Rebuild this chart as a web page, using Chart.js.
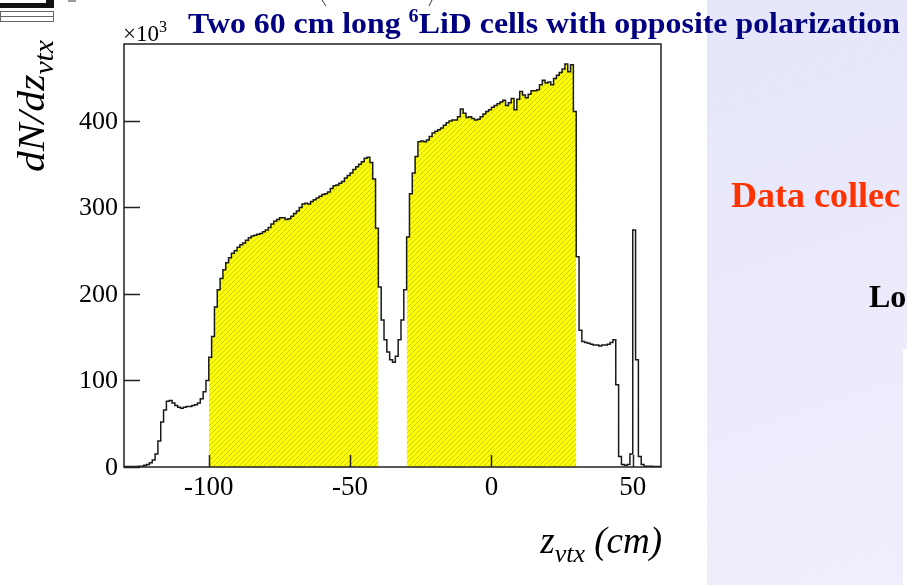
<!DOCTYPE html>
<html>
<head>
<meta charset="utf-8">
<script src="https://cdn.jsdelivr.net/npm/chart.js@4/dist/chart.umd.min.js"></script>
<style>
  html, body { margin: 0; padding: 0; background: #fff; }
  #chart-zvtx { display: block; }
</style>
</head>
<body>
<canvas id="chart-zvtx" width="907" height="585"></canvas>
<script>
// ----- DATA ----- //
// ---------------- //

// 1 cm bins, dN/dz in units of 10^3
const bin_width = 1;
const z_min = -130;
const z_max = 60;
const y_max = 489;

// Target cells (cm)
const cell_1 = [-100, -40];
const cell_2 = [-30, 30];

// z = -130 .. -101
const counts_before = [
  0.5, 0.5, 0.5, 0.5, 0.5, 1, 1, 2, 3, 5,
  8, 15, 30, 52, 66, 76, 77, 74, 71, 69,
  68, 69, 70, 70, 71, 72, 74, 79, 87, 100
];
// z = -100 .. -41 (upstream cell)
const counts_cell_1 = [
  127, 151, 185, 205, 218, 228, 236, 242, 247, 250,
  254, 257, 259, 262, 265, 267, 268, 269, 270, 272,
  274, 277, 281, 284, 286, 288, 288, 286, 287, 290,
  293, 296, 300, 304, 305, 304, 307, 309, 311, 313,
  315, 316, 318, 322, 325, 326, 328, 330, 334, 337,
  340, 344, 347, 350, 353, 357, 358, 352, 333, 276
];
// z = -40 .. -31
const counts_between = [208, 170, 147, 133, 124, 121, 128, 147, 170, 205];
// z = -30 .. 29 (downstream cell)
const counts_cell_2 = [
  266, 316, 340, 359, 376, 377, 376, 378, 382, 386,
  388, 390, 392, 395, 398, 400, 401, 401, 405, 414,
  409, 404, 405, 403, 401, 402, 405, 408, 411, 413,
  416, 418, 420, 422, 424, 418, 421, 426, 413, 425,
  434, 430, 427, 431, 435, 435, 436, 442, 447, 444,
  445, 442, 449, 453, 456, 460, 466, 457, 465, 411
];
// z = 30 .. 59
const counts_after = [
  243, 158, 145, 144, 143, 142, 141, 141, 140, 141,
  141, 142, 144, 147, 95, 12, 3, 2, 3, 15,
  274, 124, 12, 3, 1, 1, 1, 0.5, 0.5, 0.5
];

const x_ticks = [-100, -50, 0, 50];
const y_ticks = [0, 100, 200, 300, 400];

const title_text = ['Two 60 cm long ', '6', 'LiD cells with opposite polarization'];





// ----- HELPERS ----- //
// ------------------- //

// Histogram outline points (each bin = flat segment)
function histPoints(z_from, values) {
  const pts = [];
  values.forEach((v, i) => {
    pts.push({x: z_from + i * bin_width, y: v});
    pts.push({x: z_from + (i + 1) * bin_width, y: v});
  });
  return pts;
}

// Yellow with thin diagonal hatch
function makeHatch(ctx) {
  const s = 5;
  const tile = document.createElement('canvas');
  tile.width = s;
  tile.height = s;
  const t = tile.getContext('2d');
  t.fillStyle = '#ffff00';
  t.fillRect(0, 0, s, s);
  t.strokeStyle = 'rgba(150,150,60,0.5)';
  t.lineWidth = 1;
  t.beginPath();
  t.moveTo(-1, s + 1); t.lineTo(s + 1, -1);
  t.moveTo(-1, 1); t.lineTo(1, -1);
  t.moveTo(s - 1, s + 1); t.lineTo(s + 1, s - 1);
  t.stroke();
  return ctx.createPattern(tile, 'repeat');
}

// Text with a subscript / superscript part, returns end x
function drawParts(ctx, parts, x, y) {
  for (const p of parts) {
    ctx.font = p.font;
    ctx.fillText(p.text, x, y + (p.dy || 0));
    x += ctx.measureText(p.text).width;
  }
  return x;
}

function partsWidth(ctx, parts) {
  let w = 0;
  for (const p of parts) {
    ctx.font = p.font;
    w += ctx.measureText(p.text).width;
  }
  return w;
}





// ----- PAGE DECORATION ----- //
// --------------------------- //

const page_plugin = {
  id: 'page',
  beforeDraw(chart) {
    const ctx = chart.ctx;
    ctx.save();
    ctx.fillStyle = '#ffffff';
    ctx.fillRect(0, 0, chart.width, chart.height);
    // slide panel on the right
    const grad = ctx.createLinearGradient(707, 0, 907, 585);
    grad.addColorStop(0, '#e6e6fa');
    grad.addColorStop(1, '#eeeefc');
    ctx.fillStyle = grad;
    ctx.fillRect(707, 0, chart.width - 707, chart.height);
    ctx.fillStyle = '#ffffff';
    ctx.fillRect(903, 349, 4, 236);
    // clipped logo in the corner
    ctx.fillStyle = '#111';
    ctx.fillRect(0, 0, 54, 8);
    ctx.fillStyle = '#fff';
    ctx.fillRect(0, 0, 46, 3);
    ctx.strokeStyle = '#666';
    ctx.lineWidth = 1;
    ctx.strokeRect(0.5, 11.5, 53, 5);
    ctx.strokeRect(0.5, 16.5, 53, 5);
    ctx.fillStyle = '#999';
    ctx.fillRect(68, 0, 8, 2);
    // bottoms of clipped brackets
    ctx.strokeStyle = '#333';
    ctx.beginPath();
    ctx.moveTo(322, 0); ctx.lineTo(326, 6);
    ctx.moveTo(432, 0); ctx.lineTo(429, 6);
    ctx.stroke();
    ctx.restore();
  },
  afterDatasetsDraw(chart) {
    const ctx = chart.ctx;
    const a = chart.chartArea;
    const xs = chart.scales.x;
    const ys = chart.scales.y;
    ctx.save();
    ctx.strokeStyle = '#222';
    ctx.lineWidth = 1.5;
    ctx.strokeRect(a.left, a.top, a.right - a.left, a.bottom - a.top);
    ctx.beginPath();
    for (const v of y_ticks) {
      const py = Math.round(ys.getPixelForValue(v)) + 0.5;
      ctx.moveTo(a.left, py);
      ctx.lineTo(a.left + 16, py);
    }
    for (const v of x_ticks) {
      const px = Math.round(xs.getPixelForValue(v)) + 0.5;
      ctx.moveTo(px, a.bottom);
      ctx.lineTo(px, a.bottom - 12);
    }
    ctx.stroke();

    // tick labels
    ctx.fillStyle = '#000';
    ctx.font = '26px "Liberation Serif"';
    ctx.textAlign = 'right';
    ctx.textBaseline = 'middle';
    for (const v of y_ticks) {
      ctx.fillText(String(v), a.left - 6, ys.getPixelForValue(v) + 1);
    }
    ctx.font = '27px "Liberation Serif"';
    ctx.textAlign = 'center';
    ctx.textBaseline = 'alphabetic';
    for (const v of x_ticks) {
      ctx.fillText(String(v), xs.getPixelForValue(v), 495);
    }
    ctx.restore();
  },
  afterDraw(chart) {
    const ctx = chart.ctx;
    const a = chart.chartArea;
    ctx.save();
    ctx.textBaseline = 'alphabetic';
    ctx.textAlign = 'left';

    // exponent
    ctx.fillStyle = '#000';
    drawParts(ctx, [
      {text: '\u00d710', font: '23px "Liberation Serif"'},
      {text: '3', font: '16px "Liberation Serif"', dy: -9}
    ], a.left - 1, 41);

    // title
    const t_parts = [
      {text: title_text[0], font: 'bold 30px "Liberation Serif"'},
      {text: title_text[1], font: 'bold 19px "Liberation Serif"', dy: -11},
      {text: title_text[2], font: 'bold 30px "Liberation Serif"'}
    ];
    const tw = partsWidth(ctx, t_parts);
    ctx.fillStyle = '#000080';
    ctx.save();
    ctx.translate(188, 33);
    ctx.scale(712 / tw, 1);
    drawParts(ctx, t_parts, 0, 0);
    ctx.restore();

    // y title
    const y_parts = [
      {text: 'dN/dz', font: 'italic 38px "Liberation Serif"'},
      {text: 'vtx', font: 'italic 27px "Liberation Serif"', dy: 9}
    ];
    const yw = partsWidth(ctx, y_parts);
    ctx.fillStyle = '#000';
    ctx.save();
    ctx.translate(44, 172);
    ctx.rotate(-Math.PI / 2);
    ctx.scale(132 / yw, 1);
    drawParts(ctx, y_parts, 0, 0);
    ctx.restore();

    // x title
    const x_parts = [
      {text: 'z', font: 'italic 37px "Liberation Serif"'},
      {text: 'vtx', font: 'italic 26px "Liberation Serif"', dy: 9},
      {text: ' (cm)', font: 'italic 37px "Liberation Serif"'}
    ];
    const xw = partsWidth(ctx, x_parts);
    drawParts(ctx, x_parts, 662 - xw, 553);

    // slide text on the right
    ctx.fillStyle = '#ff3300';
    ctx.font = 'bold 36px "Liberation Serif"';
    ctx.fillText('Data collec', 731, 207);
    ctx.fillStyle = '#000';
    ctx.font = 'bold 32px "Liberation Serif"';
    ctx.fillText('Lo', 869, 307);
    ctx.restore();
  }
};





// ----- CREATE CHART ----- //
// ------------------------ //

const canvas = document.getElementById('chart-zvtx');
const ctx = canvas.getContext('2d');
const hatch = makeHatch(ctx);

const all_counts = counts_before.concat(counts_cell_1, counts_between, counts_cell_2, counts_after);

new Chart(ctx, {
  type: 'line',
  data: {
    datasets: [
      {
        label: 'all vertices',
        data: histPoints(z_min, all_counts),
        borderColor: '#1a1a1a',
        borderWidth: 1.5,
        fill: false,
        order: 0
      },
      {
        label: 'cell 1',
        data: histPoints(cell_1[0], counts_cell_1),
        borderWidth: 0,
        backgroundColor: hatch,
        fill: 'origin',
        order: 1
      },
      {
        label: 'cell 2',
        data: histPoints(cell_2[0], counts_cell_2),
        borderWidth: 0,
        backgroundColor: hatch,
        fill: 'origin',
        order: 1
      }
    ]
  },
  options: {
    responsive: false,
    animation: false,
    devicePixelRatio: 1,
    layout: { padding: { left: 124, right: 246, top: 44, bottom: 118 } },
    plugins: { legend: { display: false }, tooltip: { enabled: false } },
    elements: { point: { radius: 0 }, line: { tension: 0 } },
    scales: {
      x: {
        type: 'linear',
        min: z_min,
        max: z_max,
        grid: { display: false, drawTicks: false },
        border: { display: false },
        ticks: { display: false },
        afterFit: (s) => { s.height = 0; },
        afterBuildTicks: (s) => { s.ticks = x_ticks.map(v => ({value: v})); }
      },
      y: {
        type: 'linear',
        min: 0,
        max: y_max,
        grid: { display: false, drawTicks: false },
        border: { display: false },
        ticks: { display: false },
        afterFit: (s) => { s.width = 0; },
        afterBuildTicks: (s) => { s.ticks = y_ticks.map(v => ({value: v})); }
      }
    }
  },
  plugins: [page_plugin]
});
</script>
</body>
</html>
